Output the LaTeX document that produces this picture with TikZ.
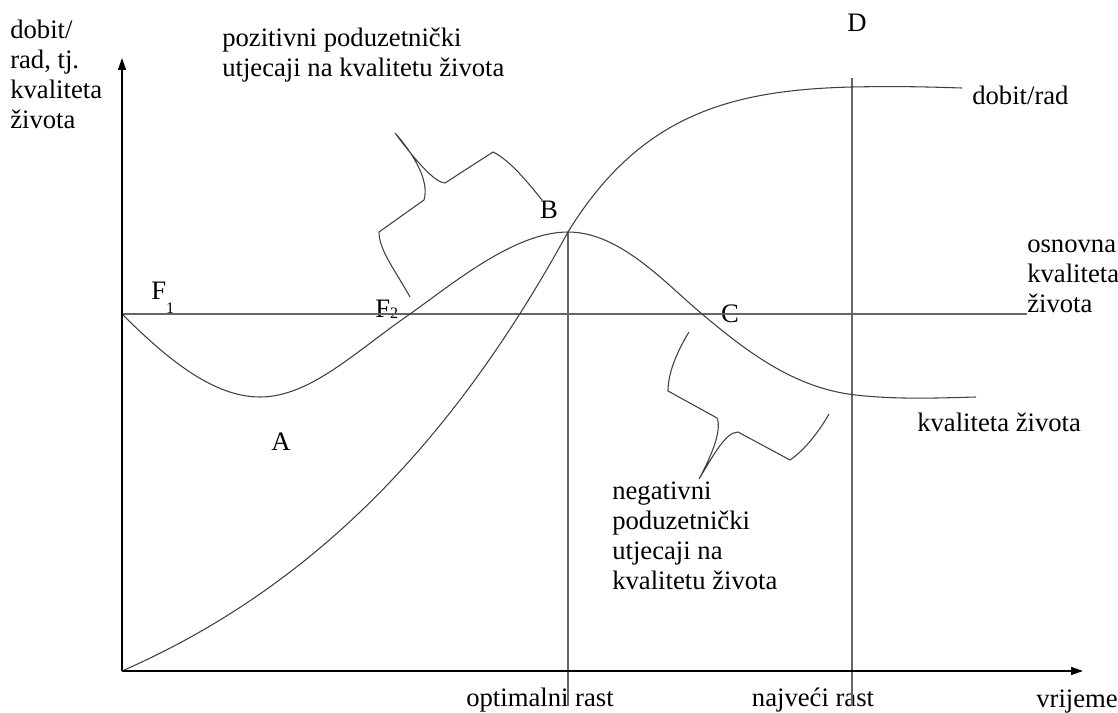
\documentclass[tikz,border=0pt]{standalone}
\usepackage{fontspec}
\setmainfont{Liberation Serif}
\usetikzlibrary{arrows.meta}

\begin{document}
\begin{tikzpicture}[x=0.75pt, y=-0.75pt,
lbl/.style={inner sep=0pt, font=\fontsize{20}{22.5}\selectfont},
curve/.style={draw=black!75, line width=0.8pt},
guide/.style={draw=black!60, line width=0.8pt},
axis/.style={draw=black, line width=1.1pt, -{Triangle[length=9pt, width=6pt]}}
]
\useasboundingbox (0,0) rectangle (1118,713);
%Coordinates
\coordinate (O)    at (122,671);
\coordinate (ytop) at (122,58);
\coordinate (xend) at (1083,671);
\coordinate (b0)   at (122,314);
\coordinate (b1)   at (1027,314);
\coordinate (qA)   at (260,397);
\coordinate (qF)   at (410,314);
\coordinate (qB)   at (568,232);
\coordinate (qC)   at (702,314);
\coordinate (q5)   at (848,394);
\coordinate (qE)   at (976,397);
\coordinate (dT)   at (852,87);
\coordinate (dE)   at (962,88);
\coordinate (opt)  at (568,706);
\coordinate (maxT) at (852,78);
\coordinate (maxB) at (852,706);
%Nodes
\node[lbl, anchor=north west, align=left] (ylab) at (10,20) {dobit/\\rad, tj.\\kvaliteta\\života};
\node[lbl, anchor=north west, align=left] (pos)  at (222,28) {pozitivni poduzetnički\\utjecaji na kvalitetu života};
\node[lbl, anchor=north west, align=left] (neg)  at (612,482) {negativni\\poduzetnički\\utjecaji na\\kvalitetu života};
\node[lbl, anchor=north west, align=left] (base) at (1027,240) {osnovna\\kvaliteta\\života};
\node[lbl, anchor=west]      (qlab) at (917,422) {kvaliteta života};
\node[lbl, anchor=west]      (dlab) at (972,95)  {dobit/rad};
\node[lbl, anchor=base west] (f1)   at (151,300) {F\raisebox{-9.75pt}{\fontsize{12}{12}\selectfont 1}};
\node[lbl, anchor=base west] (f2)   at (375,317) {F\raisebox{-1pt}{\fontsize{12}{12}\selectfont 2}};
\node[lbl]                   (A)    at (281,442) {A};
\node[lbl]                   (B)    at (549,210) {B};
\node[lbl]                   (C)    at (730,314) {C};
\node[lbl]                   (D)    at (857,23)  {D};
\node[lbl]                   (tO)   at (540,700) {optimalni rast};
\node[lbl]                   (tM)   at (813,700) {najveći rast};
\node[lbl, anchor=east]      (tV)   at (1118,702) {vrijeme};
%Lines
\draw[guide] (b0) -- (b1);
\draw[guide] (qB) -- (opt);
\draw[guide] (maxT) -- (maxB);
\draw[curve] (b0) .. controls (170,362) and (215,397) .. (qA)
  .. controls (310,397) and (355,352) .. (qF)
  .. controls (455,282) and (515,232) .. (qB)
  .. controls (620,232) and (665,283) .. (qC)
  .. controls (745,350) and (790,385) .. (q5)
  .. controls (890,400) and (940,398) .. (qE);
\draw[curve] (O) .. controls (330,580) and (465,420) .. (qB)
  .. controls (640,115) and (730,90) .. (dT)
  .. controls (900,86) and (930,87) .. (dE);
%Braces
\draw[curve] (410,297) .. controls (395,270) and (379,250) .. (379,232) -- (424,200)
  .. controls (430,180) and (412,152) .. (395,133)
  .. controls (415,160) and (435,183) .. (445,183) -- (493,152)
  .. controls (510,160) and (530,185) .. (542,200);
\draw[curve] (689,332) .. controls (675,355) and (668,375) .. (668,391) -- (717,418)
  .. controls (722,430) and (712,455) .. (699,479)
  .. controls (712,458) and (725,432) .. (738,432) -- (790,460)
  .. controls (805,450) and (820,430) .. (829,414);
%Axes
\draw[axis] (O) -- (ytop);
\draw[axis] (O) -- (xend);
\end{tikzpicture}
\end{document}
